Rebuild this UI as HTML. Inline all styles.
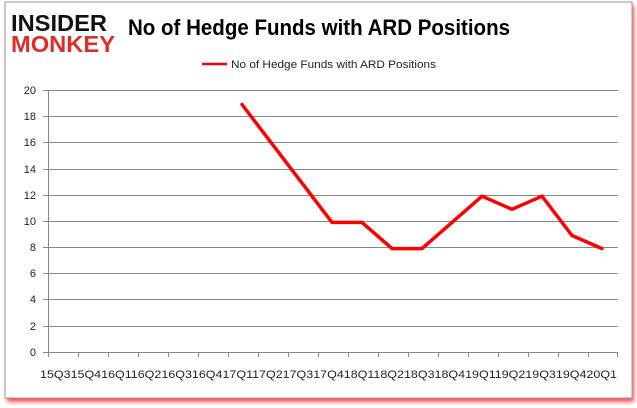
<!DOCTYPE html><html><head><style>body{margin:0;background:#fff;font-family:"Liberation Sans",Calibri,sans-serif}</style></head><body>
<svg width="637" height="408" xmlns="http://www.w3.org/2000/svg" style="display:block">
<defs><filter id="s" x="-5%" y="-5%" width="110%" height="115%"><feGaussianBlur stdDeviation="2"/></filter></defs>
<rect x="7" y="5" width="627" height="397" fill="#f00" opacity="0.7" filter="url(#s)"/>
<rect x="5" y="2" width="627" height="396" fill="#fff" stroke="#999" stroke-width="1"/>
<text x="11" y="31" font-size="23" font-weight="bold" fill="#111" textLength="96" lengthAdjust="spacingAndGlyphs">INSIDER</text>
<text x="11" y="52" font-size="23" font-weight="bold" fill="#d9302a" textLength="104" lengthAdjust="spacingAndGlyphs">MONKEY</text>
<text x="128" y="35" font-size="22" font-weight="bold" fill="#000" textLength="382" lengthAdjust="spacingAndGlyphs">No of Hedge Funds with ARD Positions</text>
<line x1="202" y1="64" x2="227" y2="64" stroke="#f00" stroke-width="2.5"/>
<text x="231" y="68" font-size="11" fill="#222" textLength="205" lengthAdjust="spacingAndGlyphs">No of Hedge Funds with ARD Positions</text>
<g stroke="#888" stroke-width="1">
<line x1="43" y1="90.5" x2="618" y2="90.5"/><line x1="43" y1="116.5" x2="618" y2="116.5"/><line x1="43" y1="142.5" x2="618" y2="142.5"/><line x1="43" y1="169.5" x2="618" y2="169.5"/><line x1="43" y1="195.5" x2="618" y2="195.5"/><line x1="43" y1="221.5" x2="618" y2="221.5"/><line x1="43" y1="247.5" x2="618" y2="247.5"/><line x1="43" y1="273.5" x2="618" y2="273.5"/><line x1="43" y1="299.5" x2="618" y2="299.5"/><line x1="43" y1="326.5" x2="618" y2="326.5"/>
<line x1="43" y1="352.5" x2="618" y2="352.5"/><line x1="48.5" y1="90" x2="48.5" y2="357"/>
<path d="M78.5 352v5M108.5 352v5M138.5 352v5M168.5 352v5M198.5 352v5M228.5 352v5M258.5 352v5M288.5 352v5M318.5 352v5M348.5 352v5M378.5 352v5M408.5 352v5M438.5 352v5M468.5 352v5M498.5 352v5M528.5 352v5M558.5 352v5M588.5 352v5M617.5 352v5"/>
</g>
<g font-size="11" fill="#222" text-anchor="end">
<text x="36" y="94">20</text><text x="36" y="120">18</text><text x="36" y="146">16</text><text x="36" y="173">14</text><text x="36" y="199">12</text><text x="36" y="225">10</text><text x="36" y="251">8</text><text x="36" y="277">6</text><text x="36" y="303">4</text><text x="36" y="330">2</text><text x="36" y="356">0</text>
</g>
<text x="40" y="378" font-size="11" fill="#222" textLength="577" lengthAdjust="spacingAndGlyphs">15Q315Q416Q116Q216Q316Q417Q117Q217Q317Q418Q118Q218Q318Q419Q119Q219Q319Q420Q1</text>
<polyline fill="none" stroke="#f00" stroke-width="3.5" stroke-linejoin="round" stroke-linecap="round" points="242,104.5 272,143.8 302,183.1 332,222.4 362,222.4 392,248.6 422,248.6 452,222.4 482,196.2 512,209.3 542,196.2 572,235.5 602,248.6"/>
</svg></body></html>
